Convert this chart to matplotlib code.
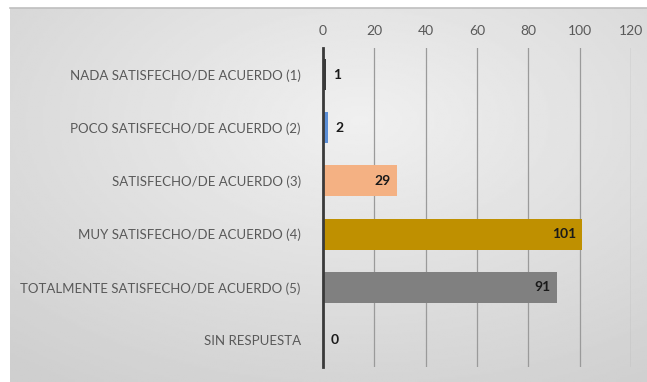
import numpy as np
import matplotlib.pyplot as plt

categories = [
    "NADA SATISFECHO/DE ACUERDO (1)",
    "POCO SATISFECHO/DE ACUERDO (2)",
    "SATISFECHO/DE ACUERDO (3)",
    "MUY SATISFECHO/DE ACUERDO (4)",
    "TOTALMENTE SATISFECHO/DE ACUERDO (5)",
    "SIN RESPUESTA",
]
values = [1, 2, 29, 101, 91, 0]
colors = ["#3a3a3a", "#5b8ed6", "#f4b183", "#bf9000", "#808080", "#a5a5a5"]
ticks = [0, 20, 40, 60, 80, 100, 120]

plt.rcParams["font.family"] = ["Lato", "DejaVu Sans"]

W, H = 647, 382
fig = plt.figure(figsize=(W / 100, H / 100), dpi=100)
fig.patch.set_facecolor("white")

# soft gray panel behind the chart
bg = fig.add_axes([10 / W, 0, 1 - 10 / W, 1 - 8 / H])
yy, xx = np.mgrid[0:1:200j, 0:1:300j]
r = np.sqrt(((xx - 0.55) / 0.85) ** 2 + ((yy - 0.3) / 0.85) ** 2)
shade = 0.94 - 0.13 * np.clip(r, 0, 1)
bg.imshow(shade, cmap="gray", vmin=0, vmax=1, aspect="auto",
          extent=[0, 1, 0, 1], origin="upper")
bg.set_xticks([])
bg.set_yticks([])
for s in ["left", "right", "bottom"]:
    bg.spines[s].set_visible(False)
bg.spines["top"].set_color("#bfbfbf")
bg.spines["top"].set_linewidth(1.2)

ax = fig.add_axes([323 / W, 1 - 367 / H, (631 - 323) / W, (367 - 48) / H])
ax.set_facecolor("none")

y = np.arange(len(categories))
ax.barh(y, values, height=0.58, color=colors, zorder=2)
ax.set_xlim(0, 120)
ax.set_ylim(len(categories) - 0.5, -0.5)

ax.set_xticks(ticks)
ax.xaxis.tick_top()
ax.tick_params(axis="x", length=0, pad=8, labelsize=10, labelcolor="#595959")
ax.set_yticks(y)
ax.set_yticklabels(categories)
ax.tick_params(axis="y", length=0, pad=16, labelsize=9.5, labelcolor="#595959")

ax.grid(axis="x", color="#9a9a9a", linewidth=0.9, zorder=1)
for s in ["top", "right", "bottom"]:
    ax.spines[s].set_visible(False)
ax.spines["left"].set_color("#3a3a3a")
ax.spines["left"].set_linewidth(2)
ax.spines["left"].set_zorder(3)

for yi, v in zip(y, values):
    if v < 10:
        ax.text(v + 3.0, yi, str(v), va="center", ha="left",
                fontsize=10, fontweight="bold", color="#1a1a1a", zorder=4)
    else:
        ax.text(v - 2.5, yi, str(v), va="center", ha="right",
                fontsize=10, fontweight="bold", color="#1a1a1a", zorder=4)

fig.savefig("out.png", dpi=100)
